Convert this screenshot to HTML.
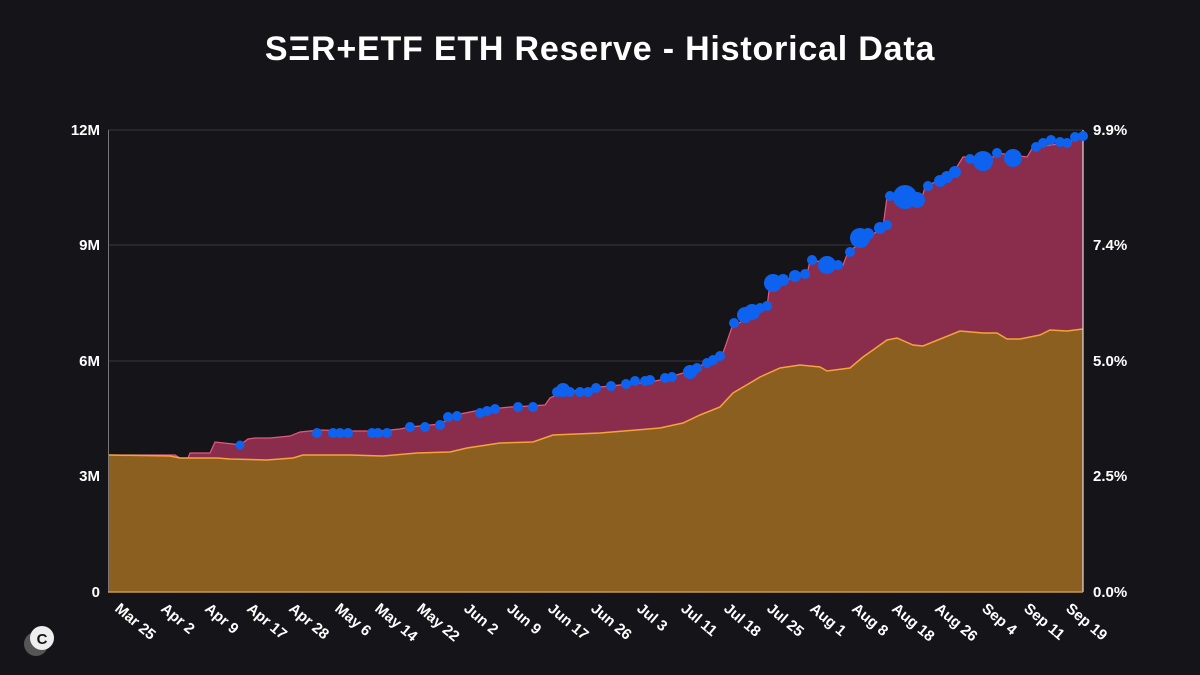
<!DOCTYPE html>
<html><head><meta charset="utf-8"><style>
html,body{margin:0;padding:0;background:#151418;}
svg{display:block;font-family:"Liberation Sans",sans-serif;}
</style></head><body>
<svg width="1200" height="675" viewBox="0 0 1200 675">
<rect width="1200" height="675" fill="#151418"/>
<text x="600" y="60" text-anchor="middle" fill="#fff" font-size="34" font-weight="bold" letter-spacing="0.8">SΞR+ETF ETH Reserve - Historical Data</text>
<g stroke="#3a393e" stroke-width="1">
<line x1="108" y1="130" x2="1083" y2="130"/><line x1="108" y1="245" x2="1083" y2="245"/>
<line x1="108" y1="361" x2="1083" y2="361"/><line x1="108" y1="476" x2="1083" y2="476"/>
</g>
<polygon fill="#8a2d4c" points="108,592 108,455 175,455 180,458 188,458 190,453 210,453 215,442 233,444 240,445 248,439 255,438 270,438 290,436 300,432 320,430 350,431 380,431 400,429 410,427 420,426 440,424 450,418 460,414 470,412 480,410 500,408 510,407 530,406 545,405 550,398 560,393 600,387 650,382 660,380 693,370 723,353 732,327 767,307 770,283 807,275 810,260 843,265 848,252 883,227 887,197 920,205 925,187 953,173 963,157 993,157 997,153 1027,157 1033,147 1067,143 1083,135 1083,592"/>
<polyline fill="none" stroke="#e05a80" stroke-width="1.2" points="108,455 175,455 180,458 188,458 190,453 210,453 215,442 233,444 240,445 248,439 255,438 270,438 290,436 300,432 320,430 350,431 380,431 400,429 410,427 420,426 440,424 450,418 460,414 470,412 480,410 500,408 510,407 530,406 545,405 550,398 560,393 600,387 650,382 660,380 693,370 723,353 732,327 767,307 770,283 807,275 810,260 843,265 848,252 883,227 887,197 920,205 925,187 953,173 963,157 993,157 997,153 1027,157 1033,147 1067,143 1083,135"/>
<polygon fill="#8a5f20" points="108,592 108,455 170,456 180,458 217,458 230,459 267,460 293,458 303,455 350,455 383,456 417,453 450,452 467,448 500,443 533,442 553,435 600,433 660,428 683,423 700,415 720,407 733,393 750,383 760,377 780,368 800,365 820,367 827,371 850,368 863,357 873,350 887,340 897,338 913,345 923,346 960,331 983,333 997,333 1007,339 1020,339 1040,335 1050,330 1067,331 1083,329 1083,592"/>
<polyline fill="none" stroke="#f5a33a" stroke-width="1.5" points="108,455 170,456 180,458 217,458 230,459 267,460 293,458 303,455 350,455 383,456 417,453 450,452 467,448 500,443 533,442 553,435 600,433 660,428 683,423 700,415 720,407 733,393 750,383 760,377 780,368 800,365 820,367 827,371 850,368 863,357 873,350 887,340 897,338 913,345 923,346 960,331 983,333 997,333 1007,339 1020,339 1040,335 1050,330 1067,331 1083,329"/>
<line x1="108.5" y1="130" x2="108.5" y2="592" stroke="#777" stroke-width="1"/>
<line x1="1083" y1="130" x2="1083" y2="592" stroke="#ddd" stroke-width="1.2"/>
<line x1="108" y1="592" x2="1083" y2="592" stroke="#c89a4a" stroke-width="1.5"/>
<g fill="#0d63f0">
<circle cx="240" cy="445" r="4.5"/><circle cx="317" cy="433" r="5"/><circle cx="333" cy="433" r="5"/><circle cx="340" cy="433" r="5"/><circle cx="348" cy="433" r="5"/>
<circle cx="372" cy="433" r="5"/><circle cx="378" cy="433" r="5"/><circle cx="387" cy="433" r="5"/><circle cx="410" cy="427" r="5"/><circle cx="425" cy="427" r="5"/>
<circle cx="440" cy="425" r="5"/><circle cx="448" cy="417" r="5"/><circle cx="457" cy="416" r="5"/><circle cx="480" cy="413" r="5"/><circle cx="487" cy="411" r="5"/>
<circle cx="495" cy="409" r="5"/><circle cx="518" cy="407" r="5"/><circle cx="533" cy="407" r="5"/><circle cx="557" cy="392" r="5"/><circle cx="563" cy="390" r="7"/>
<circle cx="570" cy="392" r="5"/><circle cx="580" cy="392" r="5"/><circle cx="588" cy="392" r="5"/><circle cx="596" cy="388" r="5"/>
<circle cx="611" cy="386" r="5"/><circle cx="626" cy="384" r="5"/><circle cx="635" cy="381" r="5"/><circle cx="645" cy="381" r="5"/><circle cx="650" cy="380" r="5"/>
<circle cx="665" cy="378" r="5"/><circle cx="672" cy="377" r="5"/><circle cx="690" cy="372" r="7"/><circle cx="697" cy="368" r="5"/><circle cx="707" cy="363" r="5"/>
<circle cx="713" cy="360" r="5"/><circle cx="720" cy="356" r="5"/><circle cx="734" cy="323" r="5"/><circle cx="745" cy="315" r="8"/><circle cx="752" cy="312" r="8"/>
<circle cx="760" cy="308" r="5"/><circle cx="767" cy="306" r="5"/><circle cx="773" cy="283" r="9"/><circle cx="783" cy="280" r="6"/><circle cx="795" cy="276" r="6"/>
<circle cx="805" cy="274" r="5"/><circle cx="812" cy="260" r="5"/><circle cx="827" cy="265" r="9"/><circle cx="838" cy="265" r="5"/><circle cx="850" cy="252" r="5"/>
<circle cx="860" cy="238" r="10"/><circle cx="868" cy="234" r="6"/><circle cx="880" cy="228" r="6"/><circle cx="887" cy="225" r="5"/><circle cx="890" cy="196" r="5"/>
<circle cx="905" cy="197" r="12"/><circle cx="917" cy="200" r="8"/><circle cx="928" cy="186" r="5"/><circle cx="940" cy="181" r="6"/><circle cx="947" cy="177" r="6"/>
<circle cx="955" cy="172" r="6"/><circle cx="970" cy="159" r="5"/><circle cx="983" cy="161" r="10"/><circle cx="997" cy="153" r="5"/><circle cx="1013" cy="158" r="9"/>
<circle cx="1036" cy="147" r="5"/><circle cx="1043" cy="143" r="5"/><circle cx="1051" cy="140" r="5"/><circle cx="1060" cy="142" r="5"/><circle cx="1067" cy="143" r="5"/>
<circle cx="1075" cy="137" r="5"/><circle cx="1083" cy="136" r="5"/>
</g>
<g fill="#fff" font-size="15" font-weight="600" text-anchor="end">
<text x="100" y="135">12M</text><text x="100" y="250">9M</text><text x="100" y="366">6M</text><text x="100" y="481">3M</text><text x="100" y="597">0</text>
</g>
<g fill="#fff" font-size="15" font-weight="600">
<text x="1093" y="135">9.9%</text><text x="1093" y="250">7.4%</text><text x="1093" y="366">5.0%</text><text x="1093" y="481">2.5%</text><text x="1093" y="597">0.0%</text>
</g>
<g fill="#fff" font-size="15" font-weight="600">
<text transform="translate(114,610) rotate(40)">Mar 25</text>
<text transform="translate(160,610) rotate(40)">Apr 2</text>
<text transform="translate(204,610) rotate(40)">Apr 9</text>
<text transform="translate(246,610) rotate(40)">Apr 17</text>
<text transform="translate(288,610) rotate(40)">Apr 28</text>
<text transform="translate(334,610) rotate(40)">May 6</text>
<text transform="translate(374,610) rotate(40)">May 14</text>
<text transform="translate(416,610) rotate(40)">May 22</text>
<text transform="translate(463,610) rotate(40)">Jun 2</text>
<text transform="translate(506,610) rotate(40)">Jun 9</text>
<text transform="translate(547,610) rotate(40)">Jun 17</text>
<text transform="translate(590,610) rotate(40)">Jun 26</text>
<text transform="translate(636,610) rotate(40)">Jul 3</text>
<text transform="translate(680,610) rotate(40)">Jul 11</text>
<text transform="translate(723,610) rotate(40)">Jul 18</text>
<text transform="translate(766,610) rotate(40)">Jul 25</text>
<text transform="translate(809,610) rotate(40)">Aug 1</text>
<text transform="translate(851,610) rotate(40)">Aug 8</text>
<text transform="translate(891,610) rotate(40)">Aug 18</text>
<text transform="translate(934,610) rotate(40)">Aug 26</text>
<text transform="translate(981,610) rotate(40)">Sep 4</text>
<text transform="translate(1023,610) rotate(40)">Sep 11</text>
<text transform="translate(1065,610) rotate(40)">Sep 19</text>
</g>
<circle cx="36" cy="644" r="12" fill="#555"/>
<circle cx="42" cy="638" r="12" fill="#eee"/>
<text x="42" y="644" text-anchor="middle" font-size="15" font-weight="bold" fill="#151418">C</text>
</svg>
</body></html>
